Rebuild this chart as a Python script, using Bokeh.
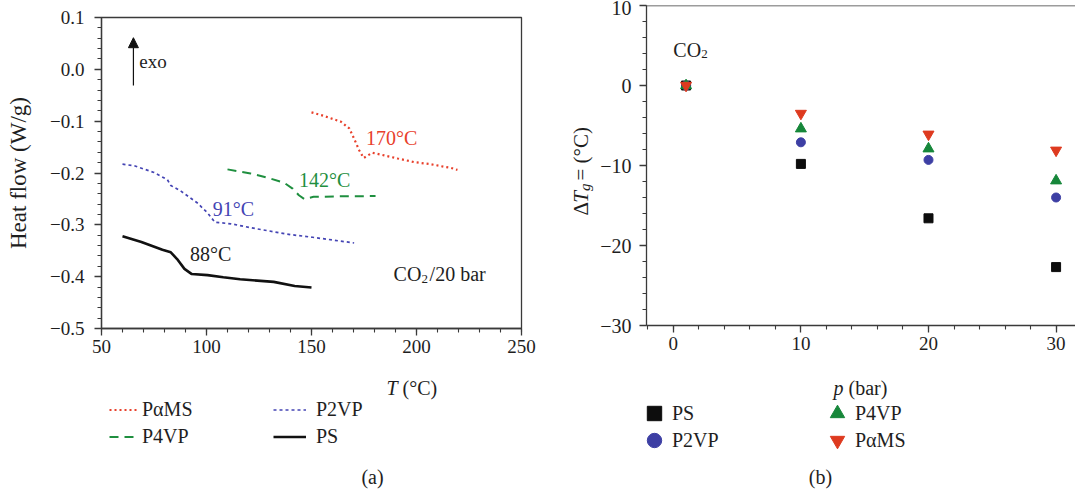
import math
from bokeh.plotting import figure
from bokeh.models import (Range1d, Label, Legend, LegendItem, Span, Arrow, NormalHead,
                          FixedTicker, CustomJSTickFormatter)
from bokeh.layouts import row, column
from bokeh.embed import file_html
from bokeh.resources import INLINE

FONT = "Liberation Serif"
AXC = "#3a3a3a"
TXT = "#1e1e1e"
NAN = float("nan")

# ---------------- data: panel (a) DSC heat-flow curves ----------------
pams_T = [150, 156, 164, 168, 170.3, 172.7, 174.8, 179, 184.6, 191, 198.9, 206.8, 213.2, 216.3, 219.5]
pams_hf = [-0.083, -0.090, -0.101, -0.114, -0.134, -0.156, -0.171, -0.161, -0.166, -0.172,
           -0.179, -0.183, -0.188, -0.190, -0.194]

p4vp_T = [110, 121, 129, 137, 141, 144, 146.5, 151, 164, 180.5]
p4vp_hf = [-0.193, -0.201, -0.209, -0.219, -0.230, -0.243, -0.250, -0.246, -0.245, -0.2445]

p2vp_T = [60, 65.6, 75, 81.4, 83, 87.8, 95.7, 100.5, 104, 111.6, 124.3, 140.2, 150.5, 170.3]
p2vp_hf = [-0.183, -0.186, -0.199, -0.213, -0.224, -0.235, -0.258, -0.277, -0.295, -0.298,
           -0.308, -0.319, -0.324, -0.335]

ps_T = [60, 69, 79, 83, 86, 89.5, 93, 100.5, 108, 116, 132, 142, 150]
ps_hf = [-0.322, -0.333, -0.348, -0.353, -0.366, -0.385, -0.395, -0.397, -0.401, -0.405,
         -0.410, -0.418, -0.421]

tg_labels = ["170°C", "142°C", "91°C", "88°C"]
legend_a = ["PαMS", "P4VP", "P2VP", "PS"]

# ---------------- data: panel (b) Tg depression ----------------
p_bar = [1, 10, 20, 30]
dTg_PS = [0, -9.8, -16.6, -22.7]
dTg_P2VP = [0, -7.1, -9.3, -14.0]
dTg_P4VP = [0, -5.4, -7.9, -11.9]
dTg_PaMS = [0, -3.5, -6.1, -8.1]
legend_b = ["PS", "P2VP", "P4VP", "PαMS"]

C_RED, C_GREEN, C_BLUE, C_BLACK = "#e8412c", "#1f8f3f", "#4444b4", "#111111"
M_RED, M_GREEN, M_BLUE, M_BLACK = "#de3a1f", "#16873a", "#3d3fa4", "#0d0d0d"

# ---------------- geometry (page pixels) ----------------
TOP_H = 364                      # height of the row holding the two plot frames
AX0, AX1, AY0, AY1 = 101, 521, 17, 328
BX0, BX1, BY0, BY1 = 645, 1075, 5, 325
STRIP = 57                       # strip left of panel (b) holding its y title
A_XR, A_YR = (50, 250), (-0.5, 0.1)
B_XR, B_YR = (-2.1, 31.6), (-30, 10)

COMMON = dict(output_backend="svg", toolbar_location=None,
              background_fill_color="white", border_fill_color="white")


def txt(p, x, y, text, size=20, color=TXT, style="normal", align="left",
        baseline="middle", angle=0.0):
    p.add_layout(Label(x=x, y=y, text=text, text_font=FONT, text_font_size=f"{size}px",
                       text_color=color, text_font_style=style, text_align=align,
                       text_baseline=baseline, angle=angle))


def style_axes(p, ysize="19px", ystand=4):
    for ax in (p.xaxis[0], p.yaxis[0]):
        ax.axis_line_color = AXC
        ax.axis_line_width = 1.3
        ax.major_tick_line_color = AXC
        ax.minor_tick_line_color = AXC
        ax.major_tick_line_width = 1.3
        ax.minor_tick_line_width = 1.1
        ax.major_tick_in = 0
        ax.major_tick_out = 7
        ax.minor_tick_in = 0
        ax.minor_tick_out = 4
        ax.major_label_text_font = FONT
        ax.major_label_text_font_size = "19px"
        ax.major_label_text_color = TXT
        ax.major_label_standoff = 4
    p.yaxis[0].major_label_text_font_size = ysize
    p.yaxis[0].major_label_standoff = ystand
    p.xgrid.visible = False
    p.ygrid.visible = False


def pixel_canvas(x0, x1, y0, y1):
    """A blank figure whose data coordinates are the page pixels it covers."""
    f = figure(frame_width=x1 - x0, frame_height=y1 - y0, min_border=0,
               x_range=Range1d(x0, x1), y_range=Range1d(y1, y0),
               x_axis_type=None, y_axis_type=None, outline_line_color=None, **COMMON)
    f.grid.visible = False
    return f


def add_legend(p, items, vx, vy, gw, gh, standoff):
    lg = Legend(items=items, location=(vx, vy), orientation="vertical",
                glyph_width=gw, glyph_height=gh, label_standoff=standoff, spacing=0,
                padding=0, margin=0, border_line_color=None, background_fill_alpha=0,
                label_text_font=FONT, label_text_font_size="20px", label_text_color=TXT,
                label_height=gh)
    p.add_layout(lg, "center")


# ======================= panel (a) plot =======================
pa = figure(frame_width=AX1 - AX0, frame_height=AY1 - AY0,
            min_border_left=AX0, min_border_right=540 - AX1,
            min_border_top=AY0, min_border_bottom=TOP_H - AY1,
            x_range=Range1d(*A_XR), y_range=Range1d(*A_YR),
            outline_line_color=AXC, outline_line_width=1.3, **COMMON)
style_axes(pa, ysize="19px", ystand=10)
pa.xaxis[0].ticker = FixedTicker(ticks=[50, 100, 150, 200, 250],
                                 minor_ticks=list(range(50, 251, 10)))
pa.yaxis[0].ticker = FixedTicker(ticks=[-0.5, -0.4, -0.3, -0.2, -0.1, 0.0, 0.1],
                                 minor_ticks=[round(-0.5 + 0.02 * i, 2) for i in range(31)])
pa.yaxis[0].formatter = CustomJSTickFormatter(
    code="var v = Math.abs(tick) < 1e-9 ? 0 : tick; return (v < 0 ? '\u2212' : '') + Math.abs(v).toFixed(1);")
pa.yaxis[0].axis_label = "Heat flow (W/g)"
pa.yaxis[0].axis_label_text_font = FONT
pa.yaxis[0].axis_label_text_font_size = "23px"
pa.yaxis[0].axis_label_text_font_style = "normal"
pa.yaxis[0].axis_label_text_color = TXT
pa.yaxis[0].axis_label_standoff = 16

line_styles = {
    "PαMS": dict(line_color=C_RED, line_width=2.2, line_dash="2 3"),
    "P4VP": dict(line_color=C_GREEN, line_width=2.0, line_dash="9 6"),
    "P2VP": dict(line_color=C_BLUE, line_width=1.7, line_dash="3 3"),
    "PS": dict(line_color=C_BLACK, line_width=2.6),
}
pa.line(pams_T, pams_hf, **line_styles["PαMS"])
pa.line(p4vp_T, p4vp_hf, **line_styles["P4VP"])
pa.line(p2vp_T, p2vp_hf, **line_styles["P2VP"])
pa.line(ps_T, ps_hf, **line_styles["PS"])

# Tg annotations
txt(pa, 176, -0.133, tg_labels[0], color=C_RED)
txt(pa, 144, -0.2135, tg_labels[1], color=C_GREEN)
txt(pa, 103, -0.269, tg_labels[2], color=C_BLUE)
txt(pa, 92.2, -0.357, tg_labels[3], color=TXT)

# exo arrow
pa.add_layout(Arrow(end=NormalHead(size=10, fill_color=C_BLACK, line_color=C_BLACK, line_width=1),
                    x_start=65.2, y_start=-0.031, x_end=65.2, y_end=0.061,
                    line_color=C_BLACK, line_width=1.2))
txt(pa, 68, 0.0144, "exo", size=19)

# CO2/20 bar  (baseline at about -0.396)
txt(pa, 189.1, -0.3955, "CO", baseline="alphabetic")
txt(pa, 189.1 + 28 / 2.1, -0.4052, "2", size=13, baseline="alphabetic")
txt(pa, 189.1 + 36 / 2.1, -0.3955, "/20 bar", baseline="alphabetic")

# ======================= panel (b) plot =======================
pb = figure(frame_width=BX1 - BX0, frame_height=BY1 - BY0,
            min_border_left=BX0 - 540 - STRIP, min_border_right=0,
            min_border_top=BY0, min_border_bottom=TOP_H - BY1,
            x_range=Range1d(*B_XR), y_range=Range1d(*B_YR),
            outline_line_color=None, **COMMON)
style_axes(pb, ysize="20px", ystand=8)
pb.xaxis[0].ticker = FixedTicker(ticks=[0, 10, 20, 30], minor_ticks=list(range(-2, 32, 2)))
pb.yaxis[0].ticker = FixedTicker(ticks=[-30, -20, -10, 0, 10], minor_ticks=list(range(-30, 11, 2)))
pb.yaxis[0].formatter = CustomJSTickFormatter(
    code="return (tick < 0 ? '\u2212' : '') + Math.abs(tick).toFixed(0);")
pb.add_layout(Span(location=10, dimension="width", line_color=AXC, line_width=1.3))

marker_styles = {
    "PS": dict(marker="square", size=9, fill_color=M_BLACK, line_color=M_BLACK),
    "P2VP": dict(marker="circle", size=9, fill_color=M_BLUE, line_color=M_BLUE),
    "P4VP": dict(marker="triangle", size=11, fill_color=M_GREEN, line_color=M_GREEN),
    "PαMS": dict(marker="inverted_triangle", size=11, fill_color=M_RED, line_color=M_RED),
}
pb.scatter(p_bar, dTg_PS, **marker_styles["PS"])
pb.scatter(p_bar, dTg_P2VP, **marker_styles["P2VP"])
pb.scatter(p_bar, dTg_P4VP, **marker_styles["P4VP"])
pb.scatter(p_bar, dTg_PaMS, **marker_styles["PαMS"])

# CO2 label (baseline near 4.4 on the y scale)
txt(pb, 0.0, 4.5, "CO", baseline="alphabetic")
txt(pb, 28 / 12.76, 3.9, "2", size=13, baseline="alphabetic")

# ---------------- strip holding the y title of panel (b) ----------------
ps_strip = pixel_canvas(540, 540 + STRIP, 0, TOP_H)
yl = 580
txt(ps_strip, yl, 210, "Δ", size=21, baseline="alphabetic", angle=math.pi / 2)
txt(ps_strip, yl, 197.2, "T", size=21, style="italic", baseline="alphabetic", angle=math.pi / 2)
txt(ps_strip, yl + 4, 185.5, "g", size=15, style="italic", baseline="alphabetic", angle=math.pi / 2)
txt(ps_strip, yl, 175, "= (°C)", size=21, baseline="alphabetic", angle=math.pi / 2)

# ---------------- bottom area of panel (a): x title, legend, caption ----------------
pa_bot = pixel_canvas(0, 540, TOP_H, 496)
txt(pa_bot, 285, 387, "T", style="italic", baseline="alphabetic")
txt(pa_bot, 301, 387, "(°C)", baseline="alphabetic")
leg_a = {name: pa_bot.line([NAN], [NAN], **line_styles[name]) for name in legend_a}
add_legend(pa_bot, [LegendItem(label=legend_a[0], renderers=[leg_a[legend_a[0]]]),
                    LegendItem(label=legend_a[1], renderers=[leg_a[legend_a[1]]])],
           109, 496 - 450, 28, 27, 5)
add_legend(pa_bot, [LegendItem(label=legend_a[2], renderers=[leg_a[legend_a[2]]]),
                    LegendItem(label=legend_a[3], renderers=[leg_a[legend_a[3]]])],
           273, 496 - 450, 33, 27, 10)
txt(pa_bot, 271, 476, "(a)", align="center")

# ---------------- bottom area of panel (b) ----------------
pb_bot = pixel_canvas(540, 1075, TOP_H, 496)
txt(pb_bot, 833, 387, "p", style="italic", baseline="alphabetic")
txt(pb_bot, 848, 387, "(bar)", baseline="alphabetic")
leg_b = {name: pb_bot.scatter([NAN], [NAN], **marker_styles[name]) for name in legend_b}
GW = 36
slots = {"PS": (636, 413), "P2VP": (636, 440), "P4VP": (819, 413), "PαMS": (819, 440)}
for name in legend_b:
    gx, gy = slots[name]
    add_legend(pb_bot, [LegendItem(label=name, renderers=[leg_b[name]])],
               gx - 540, 496 - (gy + GW / 2), GW, GW, 0)
txt(pb_bot, 820, 476, "(b)", align="center")

layout = row(column(pa, pa_bot), column(row(ps_strip, pb), pb_bot))
with open("out.html", "w", encoding="utf-8") as f:
    f.write(file_html(layout, INLINE))
